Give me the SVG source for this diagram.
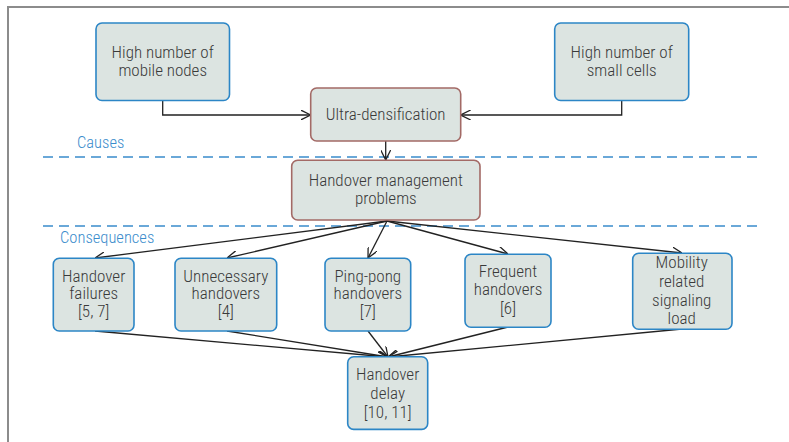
<svg xmlns="http://www.w3.org/2000/svg" width="789" height="442" viewBox="0 0 789 442">
<style>
.frame{fill:none;stroke:#8c8c8c;stroke-width:2}
.nb{fill:#dce4e1;stroke:#2c86c6;stroke-width:1.6}
.nr{fill:#dce4e1;stroke:#a36a66;stroke-width:1.6}
.t{font-family:"Liberation Sans Narrow","Roboto Condensed","DejaVu Sans Condensed","Liberation Sans",sans-serif;font-size:17px;font-weight:300;fill:#3a3a3a;text-anchor:middle}
.lab{font-family:"Liberation Sans Narrow","Roboto Condensed","Liberation Sans",sans-serif;font-size:16.5px;font-weight:300;fill:#3a8ccc}
.dash{stroke:#3a8ccc;stroke-width:1.6;stroke-dasharray:10 6;fill:none}
.c{fill:none;stroke:#222;stroke-width:1.3;marker-end:url(#a)}
</style>
<defs>
<marker id="a" viewBox="0 0 10 10" refX="10" refY="5" markerWidth="10" markerHeight="10" markerUnits="userSpaceOnUse" orient="auto">
<path d="M0,0 L10,5 L0,10" fill="none" stroke="#222" stroke-width="1.3"/>
</marker>
</defs>
<rect width="789" height="442" fill="#fff"/>
<path class="frame" d="M8,442 V7 H789"/>
<g id="labels">
<line class="dash" x1="43" y1="157" x2="758" y2="157"/>
<line class="dash" x1="43" y1="226" x2="758" y2="226"/>
<text class="lab" x="77" y="148">Causes</text>
<text class="lab" x="60" y="243">Consequences</text>
</g>
<g id="connectors">
<path class="c" d="M162.7,100 V115 H310.7"/>
<path class="c" d="M621.7,100 V115 H460.7"/>
<path class="c" d="M385.7,141 V160"/>
<path class="c" d="M387,221 L95,258"/>
<path class="c" d="M387,221 L227,258"/>
<path class="c" d="M387,221 L368,258"/>
<path class="c" d="M387,221 L508,254"/>
<path class="c" d="M387,221 L682,253"/>
<path class="c" d="M95,331 L388,357"/>
<path class="c" d="M227,331 L388,357"/>
<path class="c" d="M368,331 L388,357"/>
<path class="c" d="M508,327 L388,357"/>
<path class="c" d="M682,329 L388,357"/>
</g>
<g id="mobile-nodes">
<rect class="nb" x="96" y="23" width="133.5" height="77.5" rx="6"/>
<text class="t" x="162.7" y="58.3">High number of</text>
<text class="t" x="162.7" y="76.3">mobile nodes</text>
</g>
<g id="small-cells">
<rect class="nb" x="554.7" y="23" width="134" height="77.5" rx="6"/>
<text class="t" x="621.7" y="58.3">High number of</text>
<text class="t" x="621.7" y="76.3">small cells</text>
</g>
<g id="ultra-densification">
<rect class="nr" x="310.7" y="88" width="150" height="53" rx="6"/>
<text class="t" x="385.7" y="120">Ultra-densification</text>
</g>
<g id="handover-management">
<rect class="nr" x="291.7" y="160.3" width="188.3" height="59.7" rx="6"/>
<text class="t" x="385.8" y="186">Handover management</text>
<text class="t" x="385.8" y="204">problems</text>
</g>
<g id="handover-failures">
<rect class="nb" x="53.3" y="258.3" width="80.7" height="72.7" rx="6"/>
<text class="t" x="93.7" y="281.7">Handover</text>
<text class="t" x="93.7" y="299.3">failures</text>
<text class="t" x="93.7" y="317.3">[5, 7]</text>
</g>
<g id="unnecessary-handovers">
<rect class="nb" x="175" y="258.3" width="101.7" height="72.7" rx="6"/>
<text class="t" x="225.8" y="281.7">Unnecessary</text>
<text class="t" x="225.8" y="299.3">handovers</text>
<text class="t" x="225.8" y="317.3">[4]</text>
</g>
<g id="ping-pong-handovers">
<rect class="nb" x="325" y="258.3" width="85.7" height="72.7" rx="6"/>
<text class="t" x="367.8" y="281.7">Ping-pong</text>
<text class="t" x="367.8" y="299.3">handovers</text>
<text class="t" x="367.8" y="317.3">[7]</text>
</g>
<g id="frequent-handovers">
<rect class="nb" x="465" y="254.3" width="86" height="73" rx="6"/>
<text class="t" x="508" y="276.7">Frequent</text>
<text class="t" x="508" y="295">handovers</text>
<text class="t" x="508" y="314">[6]</text>
</g>
<g id="mobility-signaling">
<rect class="nb" x="632.7" y="253.3" width="99.3" height="76" rx="6"/>
<text class="t" x="681.7" y="268.3">Mobility</text>
<text class="t" x="681.7" y="287">related</text>
<text class="t" x="681.7" y="305.5">signaling</text>
<text class="t" x="681.7" y="323.5">load</text>
</g>
<g id="handover-delay">
<rect class="nb" x="347.7" y="356.7" width="80" height="72.7" rx="6"/>
<text class="t" x="387.7" y="380">Handover</text>
<text class="t" x="387.7" y="399">delay</text>
<text class="t" x="387.7" y="418">[10, 11]</text>
</g>
</svg>
